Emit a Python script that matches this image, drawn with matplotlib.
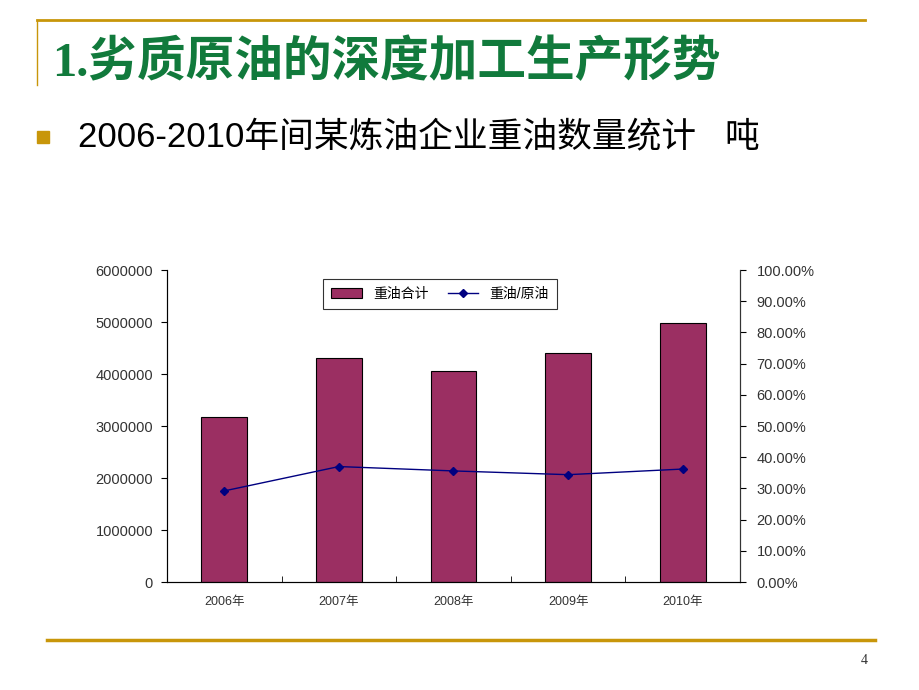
import matplotlib.pyplot as plt
from matplotlib.lines import Line2D
from matplotlib.patches import Rectangle
from matplotlib.ticker import FuncFormatter

plt.rcParams['font.family'] = ['Liberation Sans', 'Noto Sans CJK SC']

# data
years = ['2006年', '2007年', '2008年', '2009年', '2010年']
heavy_oil = [3180000, 4300000, 4050000, 4400000, 4980000]
ratio = [0.292, 0.370, 0.356, 0.344, 0.362]
left_ticks = [0, 1000000, 2000000, 3000000, 4000000, 5000000, 6000000]
right_ticks = [0, 0.1, 0.2, 0.3, 0.4, 0.5, 0.6, 0.7, 0.8, 0.9, 1.0]

W, H = 920, 690
fig = plt.figure(figsize=(9.2, 6.9), dpi=100)
fig.patch.set_facecolor('white')

gold = '#c8960a'

# slide decorations
fig.add_artist(Line2D([37 / W, 865 / W], [1 - 20 / H, 1 - 20 / H], color=gold, lw=2))
fig.add_artist(Line2D([37 / W, 37 / W], [1 - 20 / H, 1 - 85 / H], color=gold, lw=1))
fig.add_artist(Line2D([47 / W, 875 / W], [1 - 640 / H, 1 - 640 / H], color=gold, lw=2.5))
fig.add_artist(Rectangle((37 / W, 1 - 143 / H), 12 / W, 12 / H, color=gold,
                         transform=fig.transFigure))

fig.text(52 / W, 1 - 63 / H, '1.劣质原油的深度加工生产形势', fontsize=35,
         color='#117a3c', fontweight='bold', va='center', ha='left',
         family=['Liberation Serif', 'Noto Sans CJK SC'])
fig.text(78 / W, 1 - 137 / H, '2006-2010年间某炼油企业重油数量统计   吨',
         fontsize=25, color='black', va='center', ha='left')
fig.text(864 / W, 1 - 660 / H, '4', fontsize=10, color='#333333', ha='center',
         va='center', family=['Liberation Serif'])

# chart
ax = fig.add_axes([167 / W, 1 - 582 / H, (740 - 167) / W, 312 / H])
x = list(range(len(years)))
bars = ax.bar(x, heavy_oil, width=0.4, color='#9b2f62', edgecolor='black',
              linewidth=0.8, label='重油合计', zorder=2)
ax.set_xlim(-0.5, len(years) - 0.5)
ax.set_ylim(0, 6000000)
ax.set_yticks(left_ticks)
ax.yaxis.set_major_formatter(FuncFormatter(lambda v, p: '%d' % v))
ax.set_xticks(x)
ax.set_xticklabels(years)
ax.set_xticks([i + 0.5 for i in range(len(years) - 1)], minor=True)
ax.tick_params(axis='x', which='major', length=0, labelsize=9, colors='#333333', pad=10)
ax.tick_params(axis='x', which='minor', length=4, direction='in')
ax.tick_params(axis='y', labelsize=10.5, labelcolor='#333333', length=4,
               direction='out', pad=6)
ax.spines['top'].set_visible(False)
for s in ['left', 'right', 'bottom']:
    ax.spines[s].set_color('#333333')

ax2 = ax.twinx()
ax2.plot(x, ratio, color='#000080', marker='D', markersize=4.5, lw=1,
         label='重油/原油', zorder=3)
ax2.set_ylim(0, 1.0)
ax2.set_yticks(right_ticks)
ax2.yaxis.set_major_formatter(FuncFormatter(lambda v, p: '%.2f%%' % (v * 100)))
ax2.tick_params(axis='y', labelsize=10.5, labelcolor='#333333', length=4,
                direction='out', pad=8)
ax2.spines['top'].set_visible(False)
ax2.spines['right'].set_color('#333333')

handles = [bars, ax2.get_lines()[0]]
leg = ax.legend(handles, ['重油合计', '重油/原油'], ncol=2, loc='center',
                bbox_to_anchor=((440 - 167) / 573, (582 - 294) / 312),
                fontsize=10, frameon=True, fancybox=False, edgecolor='black',
                borderpad=0.6, handlelength=2.2, columnspacing=1.4)
leg.get_frame().set_linewidth(0.8)
leg.set_zorder(5)

fig.savefig('out.png', dpi=100)
